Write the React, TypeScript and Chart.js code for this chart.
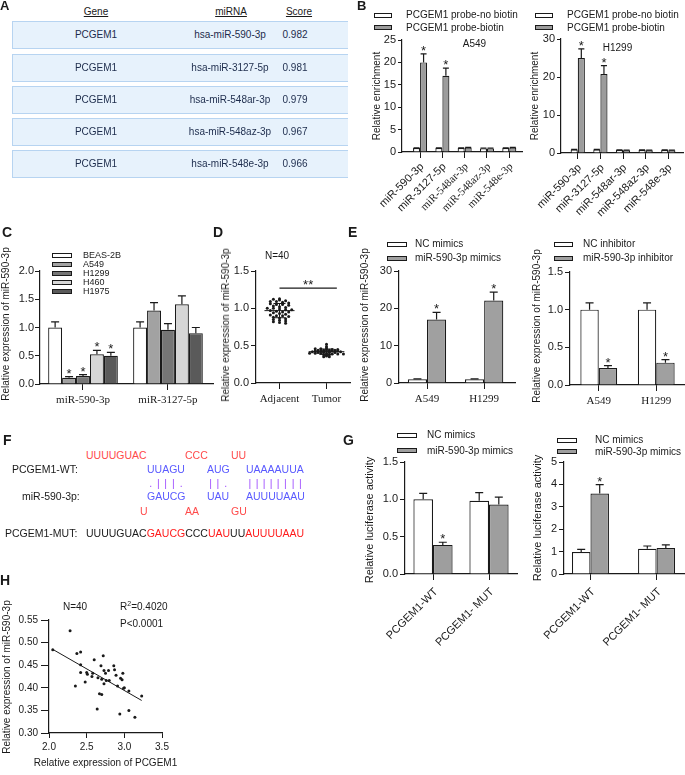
import React, { useEffect, useRef } from 'react';
import { Chart, registerables } from 'chart.js';
Chart.register(...registerables);

const SANS = "'Liberation Sans', Arial, Helvetica, sans-serif";
const SERIF = "'Liberation Serif', 'Times New Roman', Times, serif";
const INK = '#1a1a1a';

// ================= DATA =================
// Panel A
const tableGenes = ['PCGEM1', 'PCGEM1', 'PCGEM1', 'PCGEM1', 'PCGEM1'];
const tableMirnas = ['hsa-miR-590-3p', 'hsa-miR-3127-5p', 'hsa-miR-548ar-3p', 'hsa-miR-548az-3p', 'hsa-miR-548e-3p'];
const tableScores = ['0.982', '0.981', '0.979', '0.967', '0.966'];

// Panel B
const bCategories = ['miR-590-3p', 'miR-3127-5p', 'miR-548ar-3p', 'miR-548az-3p', 'miR-548e-3p'];
const bA549NoBiotin = [0.9, 0.9, 0.9, 0.8, 0.9];
const bA549NoBiotinErr = [0.05, 0.05, 0.05, 0.05, 0.05];
const bA549Biotin = [20, 17, 1.0, 0.8, 1.0];
const bA549BiotinErr = [1.9, 1.7, 0.05, 0.05, 0.05];
const bA549Stars = [true, true, false, false, false];
const bH1299NoBiotin = [0.9, 0.9, 0.8, 0.8, 0.8];
const bH1299NoBiotinErr = [0.05, 0.05, 0.05, 0.05, 0.05];
const bH1299Biotin = [25, 20.8, 0.7, 0.7, 0.7];
const bH1299BiotinErr = [2.4, 2.2, 0.05, 0.05, 0.05];
const bH1299Stars = [true, true, false, false, false];

// Panel C
const cCategories = ['miR-590-3p', 'miR-3127-5p'];
const cLines = ['BEAS-2B', 'A549', 'H1299', 'H460', 'H1975'];
const cColors = ['#ffffff', '#a2a2a2', '#767676', '#d6d6d6', '#5a5a5a'];
const cValues = [
  [1.0, 1.0],
  [0.11, 1.3],
  [0.14, 0.96],
  [0.525, 1.41],
  [0.5, 0.9],
];
const cErrors = [
  [0.1, 0.1],
  [0.02, 0.14],
  [0.025, 0.11],
  [0.07, 0.15],
  [0.06, 0.1],
];
const cStars = [
  [false, false],
  [true, false],
  [true, false],
  [true, false],
  [true, false],
];

// Panel D
const dCategories = ['Adjacent', 'Tumor'];
const dAdjacent = [1.13, 1.12, 1.11, 1.10, 1.09, 1.09, 1.08, 1.07, 1.06, 1.05, 1.05, 1.04, 1.03, 1.02, 1.01, 1.00, 1.00, 0.99, 0.98, 0.98,
  0.97, 0.96, 0.95, 0.95, 0.94, 0.93, 0.92, 0.91, 0.90, 0.90, 0.89, 0.88, 0.87, 0.86, 0.85, 0.84, 0.83, 0.82, 0.81, 0.80];
const dTumor = [0.52, 0.49, 0.47, 0.46, 0.46, 0.45, 0.45, 0.45, 0.44, 0.44, 0.44, 0.44, 0.43, 0.43, 0.43, 0.43, 0.43, 0.42, 0.42, 0.42,
  0.42, 0.42, 0.42, 0.41, 0.41, 0.41, 0.41, 0.40, 0.40, 0.40, 0.40, 0.39, 0.39, 0.39, 0.38, 0.38, 0.37, 0.36, 0.35, 0.35];
const dSigFrom = 0;
const dSigTo = 1.22;
const dSigLevel = 1.27;

// Panel E
const eCategories = ['A549', 'H1299'];
const eNcMimics = [1.0, 1.0];
const eNcMimicsErr = [0.1, 0.1];
const eMimics = [17.0, 22.1];
const eMimicsErr = [1.9, 2.25];
const eMimicsStars = [true, true];
const eNcInhibitor = [1.0, 1.0];
const eNcInhibitorErr = [0.09, 0.09];
const eInhibitor = [0.226, 0.297];
const eInhibitorErr = [0.03, 0.04];
const eInhibitorStars = [true, true];

// Panel G
const gCategories = ['PCGEM1-WT', 'PCGEM1- MUT'];
const gLeftNc = [1.0, 0.98];
const gLeftNcErr = [0.08, 0.11];
const gLeftMimics = [0.39, 0.93];
const gLeftMimicsErr = [0.035, 0.1];
const gLeftStars = [true, false];
const gRightNc = [0.98, 1.13];
const gRightNcErr = [0.12, 0.12];
const gRightMimics = [3.59, 1.16];
const gRightMimicsErr = [0.4, 0.14];
const gRightStars = [true, false];

// Panel H
const hPcgem1 = [2.05, 2.28, 2.37, 2.42, 2.35, 2.42, 2.42, 2.50, 2.51, 2.48, 2.58, 2.57, 2.60, 2.65, 2.64, 2.67, 2.69, 2.70, 2.70, 2.73,
  2.72, 2.73, 2.75, 2.76, 2.79, 2.80, 2.86, 2.87, 2.89, 2.91, 2.94, 2.95, 2.97, 2.99, 2.98, 3.00, 3.06, 3.06, 3.14, 3.23];
const hMir590 = [0.484, 0.526, 0.476, 0.479, 0.404, 0.451, 0.434, 0.434, 0.430, 0.413, 0.432, 0.425, 0.462, 0.422, 0.353, 0.387, 0.449, 0.419, 0.385, 0.438,
  0.471, 0.409, 0.432, 0.416, 0.438, 0.416, 0.449, 0.440, 0.428, 0.404, 0.342, 0.421, 0.418, 0.399, 0.432, 0.400, 0.393, 0.350, 0.335, 0.382];
const hFitX = [2.05, 3.23];
const hFitY = [0.485, 0.372];

// Axis titles
const titleEnrichment = 'Relative enrichment';
const titleExpression = 'Relative expression of miR-590-3p';
const titleLuciferase = 'Relative luciferase activity';
const titlePcgem1 = 'Relative expression of PCGEM1';

// ================= HELPERS =================
const errorBarPlugin: any = {
  id: 'errorBars',
  afterDatasetsDraw(chart: any) {
    const ctx = chart.ctx;
    const yScale = chart.scales.y;
    chart.data.datasets.forEach((ds: any, di: number) => {
      const meta = chart.getDatasetMeta(di);
      if (!ds.errors) return;
      meta.data.forEach((bar: any, i: number) => {
        const v = ds.data[i].y;
        const e = ds.errors[i];
        const yTop = yScale.getPixelForValue(v + e);
        const cap = Math.min(8, bar.width * 0.85);
        ctx.save();
        ctx.strokeStyle = INK;
        ctx.lineWidth = 1.2;
        ctx.beginPath();
        ctx.moveTo(bar.x, bar.y);
        ctx.lineTo(bar.x, yTop);
        ctx.moveTo(bar.x - cap / 2, yTop);
        ctx.lineTo(bar.x + cap / 2, yTop);
        ctx.stroke();
        if (ds.stars && ds.stars[i]) {
          ctx.fillStyle = INK;
          ctx.font = `13px ${SANS}`;
          ctx.textAlign = 'center';
          ctx.textBaseline = 'alphabetic';
          ctx.fillText('*', bar.x, yTop + 1);
        }
        ctx.restore();
      });
    });
  },
};

// 45-degree category labels drawn at the x scale's tick positions
function rotLabelPlugin(cats: string[], fontFor: (i: number) => string, dx: number, dy: number) {
  return {
    id: 'rotLabels',
    afterDraw(chart: any) {
      const { ctx } = chart;
      const xs = chart.scales.x;
      const base = chart.chartArea.bottom;
      cats.forEach((c, i) => {
        const px = xs.getPixelForValue(i);
        ctx.save();
        ctx.translate(px + dx, base + dy);
        ctx.rotate(-Math.PI / 4);
        ctx.font = fontFor(i);
        ctx.fillStyle = INK;
        ctx.textAlign = 'right';
        ctx.textBaseline = 'middle';
        ctx.fillText(c, 0, 0);
        ctx.restore();
      });
    },
  };
}

function yAxis(o: any) {
  return {
    type: 'linear',
    min: o.min,
    max: o.max,
    ticks: {
      stepSize: o.step,
      padding: o.tickPad ?? 2,
      color: INK,
      font: { family: SANS, size: o.tickSize ?? 11 },
      callback: (v: any) => Number(v).toFixed(o.dec),
    },
    grid: { drawOnChartArea: false, drawTicks: true, tickLength: o.tickLen ?? 5, color: INK, lineWidth: 1 },
    border: { display: true, color: INK, width: 1.2 },
    title: { display: false },
  };
}

function xIndexAxis(o: any) {
  return {
    type: 'linear',
    min: o.min,
    max: o.max,
    offset: false,
    afterBuildTicks: (s: any) => {
      s.ticks = o.cats.map((_: any, i: number) => ({ value: i }));
    },
    ticks: {
      display: !o.hideLabels,
      autoSkip: false,
      minRotation: 0,
      maxRotation: 0,
      padding: o.pad ?? 3,
      color: INK,
      font: o.font,
      callback: (_v: any, i: number) => o.cats[i],
    },
    grid: { offset: false, drawOnChartArea: false, drawTicks: true, tickLength: 6, color: INK, lineWidth: 1 },
    border: { display: true, color: INK, width: 1.2 },
  };
}

function barDs(values: number[], errors: number[], color: string, stars: boolean[] | undefined, cp: number) {
  return {
    data: values.map((y, x) => ({ x, y })),
    errors,
    stars,
    backgroundColor: color,
    borderColor: INK,
    borderWidth: 1.2,
    barPercentage: 1,
    categoryPercentage: cp,
  };
}

function ChartCanvas({ area, yW, xH, padTop = 10, padRight = 6, make }: any) {
  const ref = useRef<HTMLCanvasElement | null>(null);
  const left = area.l - yW;
  const top = area.t - padTop;
  const width = area.r - area.l + yW + padRight;
  const height = area.b - area.t + padTop + xH;
  useEffect(() => {
    if (!ref.current) return;
    const cfg: any = make();
    cfg.options = cfg.options || {};
    cfg.options.animation = false;
    cfg.options.responsive = false;
    cfg.options.maintainAspectRatio = false;
    cfg.options.layout = { padding: { top: padTop, right: padRight, left: 0, bottom: 0 } };
    cfg.options.plugins = { legend: { display: false }, tooltip: { enabled: false }, ...(cfg.options.plugins || {}) };
    cfg.options.scales.x.afterFit = (s: any) => { s.height = xH; };
    cfg.options.scales.y.afterFit = (s: any) => { s.width = yW; };
    const chart = new Chart(ref.current, cfg);
    return () => chart.destroy();
  }, []);
  return <canvas ref={ref} width={width} height={height} style={{ position: 'absolute', left, top, width, height }} />;
}

function swarm(vals: number[], group: number, bin: number, step: number) {
  const bins = new Map<number, number[]>();
  vals.forEach((v) => {
    const k = Math.round(v / bin);
    if (!bins.has(k)) bins.set(k, []);
    bins.get(k)!.push(v);
  });
  const pts: any[] = [];
  bins.forEach((arr) => arr.forEach((v, j) => pts.push({ x: group + (j - (arr.length - 1) / 2) * step, y: v })));
  return pts;
}

function dotStatsPlugin(groups: number[][], halfWidths: number[]) {
  return {
    id: 'dotStats',
    afterDatasetsDraw(chart: any) {
      const { ctx } = chart;
      const xs = chart.scales.x;
      const ys = chart.scales.y;
      ctx.save();
      ctx.strokeStyle = INK;
      ctx.lineWidth = 1;
      groups.forEach((vals, gi) => {
        const m = vals.reduce((a, b) => a + b, 0) / vals.length;
        const sd = Math.sqrt(vals.reduce((a, b) => a + (b - m) * (b - m), 0) / (vals.length - 1));
        const hw = halfWidths[gi];
        ctx.beginPath();
        ctx.moveTo(xs.getPixelForValue(gi - hw), ys.getPixelForValue(m));
        ctx.lineTo(xs.getPixelForValue(gi + hw), ys.getPixelForValue(m));
        ctx.moveTo(xs.getPixelForValue(gi), ys.getPixelForValue(m - sd));
        ctx.lineTo(xs.getPixelForValue(gi), ys.getPixelForValue(m + sd));
        const cw = hw * 0.4;
        ctx.moveTo(xs.getPixelForValue(gi - cw), ys.getPixelForValue(m - sd));
        ctx.lineTo(xs.getPixelForValue(gi + cw), ys.getPixelForValue(m - sd));
        ctx.moveTo(xs.getPixelForValue(gi - cw), ys.getPixelForValue(m + sd));
        ctx.lineTo(xs.getPixelForValue(gi + cw), ys.getPixelForValue(m + sd));
        ctx.stroke();
      });
      const sy = ys.getPixelForValue(dSigLevel);
      ctx.lineWidth = 1.2;
      ctx.beginPath();
      ctx.moveTo(xs.getPixelForValue(dSigFrom), sy);
      ctx.lineTo(xs.getPixelForValue(dSigTo), sy);
      ctx.stroke();
      ctx.fillStyle = INK;
      ctx.font = `13px ${SANS}`;
      ctx.textAlign = 'center';
      ctx.fillText('**', xs.getPixelForValue((dSigFrom + dSigTo) / 2), sy + 1);
      ctx.restore();
    },
  };
}

function Txt({ x, y, children, size = 10, family = SANS, color = INK, weight = 400, center = false, style = {} }: any) {
  return (
    <div
      style={{
        position: 'absolute',
        left: x,
        top: y - size * 0.6,
        fontFamily: family,
        fontSize: size,
        lineHeight: `${size * 1.2}px`,
        color,
        fontWeight: weight,
        whiteSpace: 'pre',
        transform: center ? 'translateX(-50%)' : undefined,
        ...style,
      }}
    >
      {children}
    </div>
  );
}

function RotTxt({ cx, cy, children, size = 10 }: any) {
  return (
    <div
      style={{
        position: 'absolute',
        left: cx,
        top: cy,
        fontFamily: SANS,
        fontSize: size,
        lineHeight: `${size * 1.2}px`,
        color: INK,
        whiteSpace: 'pre',
        transform: 'translate(-50%, -50%) rotate(-90deg)',
      }}
    >
      {children}
    </div>
  );
}

function Legend({ x, tx, ys, w = 20, items, size = 10 }: any) {
  return (
    <>
      {items.map((it: any, i: number) => (
        <React.Fragment key={i}>
          <div
            style={{
              position: 'absolute',
              left: x,
              top: ys[i] - 2.5,
              width: w,
              height: 5,
              boxSizing: 'border-box',
              border: `1px solid ${INK}`,
              background: it.color,
            }}
          />
          <Txt x={tx} y={ys[i]} size={size}>{it.label}</Txt>
        </React.Fragment>
      ))}
    </>
  );
}

// ================= CHART CONFIGS =================
const sans11 = () => `11px ${SANS}`;

const makeBLeft = () => ({
  type: 'bar',
  data: {
    datasets: [
      barDs(bA549NoBiotin, bA549NoBiotinErr, '#ffffff', undefined, 0.63),
      barDs(bA549Biotin, bA549BiotinErr, '#9c9c9c', bA549Stars, 0.63),
    ],
  },
  options: {
    scales: {
      x: xIndexAxis({ cats: bCategories, min: -0.81, max: 4.57, hideLabels: true }),
      y: yAxis({ min: 0, max: 25, step: 5, dec: 0, tickLen: 4 }),
    },
  },
  plugins: [errorBarPlugin, rotLabelPlugin(bCategories, (i) => (i < 2 ? `11px ${SANS}` : `11px ${SERIF}`), 2, 13)],
});

const makeBRight = () => ({
  type: 'bar',
  data: {
    datasets: [
      barDs(bH1299NoBiotin, bH1299NoBiotinErr, '#ffffff', undefined, 0.63),
      barDs(bH1299Biotin, bH1299BiotinErr, '#9c9c9c', bH1299Stars, 0.63),
    ],
  },
  options: {
    scales: {
      x: xIndexAxis({ cats: bCategories, min: -0.74, max: 4.65, hideLabels: true }),
      y: yAxis({ min: 0, max: 30, step: 10, dec: 0, tickLen: 4 }),
    },
  },
  plugins: [errorBarPlugin, rotLabelPlugin(bCategories, sans11, 2, 13)],
});

const makeC = () => ({
  type: 'bar',
  data: { datasets: cLines.map((_, i) => barDs(cValues[i], cErrors[i], cColors[i], cStars[i], 0.82)) },
  options: {
    scales: {
      x: xIndexAxis({ cats: cCategories, min: -0.506, max: 1.53, pad: 4, font: { family: SERIF, size: 11 } }),
      y: yAxis({ min: 0, max: 2, step: 0.5, dec: 1, tickPad: 1 }),
    },
  },
  plugins: [errorBarPlugin],
});

const makeD = () => ({
  type: 'scatter',
  data: {
    datasets: [
      { data: swarm(dAdjacent, 0, 0.03, 0.13), pointRadius: 1.5, pointBackgroundColor: INK, pointBorderWidth: 0 },
      { data: swarm(dTumor, 1, 0.012, 0.12), pointRadius: 1.5, pointBackgroundColor: INK, pointBorderWidth: 0 },
    ],
  },
  options: {
    scales: {
      x: xIndexAxis({ cats: dCategories, min: -0.5, max: 1.5, pad: 4, font: { family: SERIF, size: 11 } }),
      y: yAxis({ min: 0, max: 1.5, step: 0.5, dec: 1 }),
    },
  },
  plugins: [dotStatsPlugin([dAdjacent, dTumor], [0.32, 0.38])],
});

const makeELeft = () => ({
  type: 'bar',
  data: {
    datasets: [
      barDs(eNcMimics, eNcMimicsErr, '#ffffff', undefined, 0.67),
      barDs(eMimics, eMimicsErr, '#a0a0a0', eMimicsStars, 0.67),
    ],
  },
  options: {
    scales: {
      x: xIndexAxis({ cats: eCategories, min: -0.49, max: 1.54, pad: 4, font: { family: SERIF, size: 11 } }),
      y: yAxis({ min: 0, max: 30, step: 10, dec: 0 }),
    },
  },
  plugins: [errorBarPlugin],
});

const makeERight = () => ({
  type: 'bar',
  data: {
    datasets: [
      barDs(eNcInhibitor, eNcInhibitorErr, '#ffffff', undefined, 0.64),
      barDs(eInhibitor, eInhibitorErr, '#a0a0a0', eInhibitorStars, 0.64),
    ],
  },
  options: {
    scales: {
      x: xIndexAxis({ cats: eCategories, min: -0.5, max: 1.5, pad: 4, font: { family: SERIF, size: 11 } }),
      y: yAxis({ min: 0, max: 1.5, step: 0.5, dec: 1 }),
    },
  },
  plugins: [errorBarPlugin],
});

const makeGLeft = () => ({
  type: 'bar',
  data: {
    datasets: [
      barDs(gLeftNc, gLeftNcErr, '#ffffff', undefined, 0.7),
      barDs(gLeftMimics, gLeftMimicsErr, '#9e9e9e', gLeftStars, 0.7),
    ],
  },
  options: {
    scales: {
      x: xIndexAxis({ cats: gCategories, min: -0.5, max: 1.5, hideLabels: true }),
      y: yAxis({ min: 0, max: 1.5, step: 0.5, dec: 1 }),
    },
  },
  plugins: [errorBarPlugin, rotLabelPlugin(gCategories, sans11, 3, 16)],
});

const makeGRight = () => ({
  type: 'bar',
  data: {
    datasets: [
      barDs(gRightNc, gRightNcErr, '#ffffff', undefined, 0.56),
      barDs(gRightMimics, gRightMimicsErr, '#9e9e9e', gRightStars, 0.56),
    ],
  },
  options: {
    scales: {
      x: xIndexAxis({ cats: gCategories, min: -0.4, max: 1.43, hideLabels: true }),
      y: yAxis({ min: 0, max: 5, step: 1, dec: 0 }),
    },
  },
  plugins: [errorBarPlugin, rotLabelPlugin(gCategories, sans11, 3, 16)],
});

const makeH = () => ({
  type: 'scatter',
  data: {
    datasets: [
      { data: hPcgem1.map((x, i) => ({ x, y: hMir590[i] })), pointRadius: 1.5, pointBackgroundColor: INK, pointBorderWidth: 0 },
      { type: 'line', data: hFitX.map((x, i) => ({ x, y: hFitY[i] })), showLine: true, pointRadius: 0, borderColor: INK, borderWidth: 1, fill: false },
    ],
  },
  options: {
    scales: {
      x: {
        type: 'linear', min: 2, max: 3.5,
        ticks: { stepSize: 0.5, padding: 3, color: INK, font: { family: SANS, size: 10 }, callback: (v: any) => Number(v).toFixed(1) },
        grid: { drawOnChartArea: false, drawTicks: true, tickLength: 5, color: INK, lineWidth: 1 },
        border: { display: true, color: INK, width: 1.2 },
        title: { display: false },
      },
      y: yAxis({ min: 0.3, max: 0.55, step: 0.05, dec: 2, tickSize: 10, tickLen: 8, tickPad: 3 }),
    },
  },
});

// ================= PANELS =================
function PanelA() {
  const rowTops = [21, 53.5, 86, 118, 150];
  return (
    <>
      <Txt x={96} y={12} center style={{ textDecoration: 'underline' }}>Gene</Txt>
      <Txt x={231} y={12} center style={{ textDecoration: 'underline' }}>miRNA</Txt>
      <Txt x={299} y={12} center style={{ textDecoration: 'underline' }}>Score</Txt>
      {tableGenes.map((g, i) => (
        <React.Fragment key={i}>
          <div
            style={{
              position: 'absolute', left: 12, top: rowTops[i], width: 336, height: 28, boxSizing: 'border-box',
              background: '#e7f2fc', borderTop: '1.5px solid #b7d4f1', borderBottom: '1.5px solid #b7d4f1', borderLeft: '1.5px solid #b7d4f1',
            }}
          />
          <Txt x={96} y={rowTops[i] + 14} center color="#1d2c4c">{g}</Txt>
          <Txt x={230} y={rowTops[i] + 14} center color="#1d2c4c">{tableMirnas[i]}</Txt>
          <Txt x={295} y={rowTops[i] + 14} center color="#1d2c4c">{tableScores[i]}</Txt>
        </React.Fragment>
      ))}
    </>
  );
}

const RED = '#ff4a4a';
const MRED = '#ff1a1a';
const BLUE = '#5a5aff';
const PURPLE = '#a050ff';
const FS = 10.5;

function PairRow({ x, y, ref, sym }: any) {
  return (
    <div style={{ position: 'absolute', left: x, top: y - FS * 0.6, fontFamily: SANS, fontSize: FS, lineHeight: `${FS * 1.2}px`, whiteSpace: 'pre' }}>
      {ref.split('').map((c: string, i: number) => (
        <span key={i} style={{ position: 'relative', color: 'transparent' }}>
          {c}
          <span style={{ position: 'absolute', left: 0, right: 0, textAlign: 'center', color: PURPLE }}>{sym[i]}</span>
        </span>
      ))}
    </div>
  );
}

function PanelF() {
  const segs = [
    { x: 147, wt: 'UUAGU', pair: '.|||.', mir: 'GAUCG' },
    { x: 207, wt: 'AUG', pair: '||.', mir: 'UAU' },
    { x: 246, wt: 'UAAAAUUA', pair: '||||||||', mir: 'AUUUUAAU' },
  ];
  const topRed = [{ x: 86, s: 'UUUUGUAC' }, { x: 185, s: 'CCC' }, { x: 231, s: 'UU' }];
  const botRed = [{ x: 140, s: 'U' }, { x: 185, s: 'AA' }, { x: 231, s: 'GU' }];
  return (
    <>
      {topRed.map((t, i) => <Txt key={'t' + i} x={t.x} y={455} size={FS} color={RED}>{t.s}</Txt>)}
      <Txt x={12} y={469} size={FS}>PCGEM1-WT:</Txt>
      {segs.map((s, i) => <Txt key={'w' + i} x={s.x} y={469} size={FS} color={BLUE}>{s.wt}</Txt>)}
      {segs.map((s, i) => <PairRow key={'p' + i} x={s.x} y={483} ref={s.wt} sym={s.pair} />)}
      <Txt x={22} y={496} size={FS}>miR-590-3p:</Txt>
      {segs.map((s, i) => <Txt key={'m' + i} x={s.x} y={496} size={FS} color={BLUE}>{s.mir}</Txt>)}
      {botRed.map((t, i) => <Txt key={'b' + i} x={t.x} y={511} size={FS} color={RED}>{t.s}</Txt>)}
      <Txt x={5} y={533} size={FS}>PCGEM1-MUT:</Txt>
      <Txt x={86} y={533} size={FS}>
        <span>UUUUGUAC</span>
        <span style={{ color: MRED }}>GAUCG</span>
        <span>CCC</span>
        <span style={{ color: MRED }}>UAU</span>
        <span>UU</span>
        <span style={{ color: MRED }}>AUUUUAAU</span>
      </Txt>
    </>
  );
}

export default function App() {
  return (
    <div
      style={{
        position: 'absolute', left: 0, top: 0, width: 685, height: 775, overflow: 'hidden',
        background: '#ffffff', fontFamily: SANS, color: INK,
      }}
    >
      {/* Charts */}
      <ChartCanvas area={{ l: 402, r: 522, t: 40, b: 152 }} yW={33} xH={66} padRight={4} make={makeBLeft} />
      <ChartCanvas area={{ l: 561, r: 683, t: 39, b: 153 }} yW={34} xH={66} padRight={2} make={makeBRight} />
      <ChartCanvas area={{ l: 40, r: 213, t: 271, b: 384 }} yW={40} xH={25} make={makeC} />
      <ChartCanvas area={{ l: 256, r: 350, t: 271, b: 383 }} yW={38} xH={25} make={makeD} />
      <ChartCanvas area={{ l: 399, r: 515, t: 271, b: 383 }} yW={42} xH={25} make={makeELeft} />
      <ChartCanvas area={{ l: 570, r: 685, t: 272, b: 385 }} yW={41} xH={25} padRight={0} make={makeERight} />
      <ChartCanvas area={{ l: 405, r: 517, t: 462, b: 574 }} yW={43} xH={72} make={makeGLeft} />
      <ChartCanvas area={{ l: 564, r: 685, t: 462, b: 574 }} yW={34} xH={72} padRight={0} make={makeGRight} />
      <ChartCanvas area={{ l: 49, r: 162, t: 620, b: 733 }} yW={49} xH={25} padRight={14} make={makeH} />

      {/* Axis titles */}
      <RotTxt cx={377} cy={96}>{titleEnrichment}</RotTxt>
      <RotTxt cx={535} cy={96}>{titleEnrichment}</RotTxt>
      <RotTxt cx={6} cy={324}>{titleExpression}</RotTxt>
      <RotTxt cx={226} cy={325}>{titleExpression}</RotTxt>
      <RotTxt cx={365} cy={325}>{titleExpression}</RotTxt>
      <RotTxt cx={537} cy={326}>{titleExpression}</RotTxt>
      <RotTxt cx={370} cy={520} size={11}>{titleLuciferase}</RotTxt>
      <RotTxt cx={538} cy={518} size={11}>{titleLuciferase}</RotTxt>
      <RotTxt cx={7} cy={677}>{titleExpression}</RotTxt>
      <Txt x={105.5} y={763} center>{titlePcgem1}</Txt>

      {/* Panel letters */}
      <Txt x={0} y={6} size={13} weight={700}>A</Txt>
      <Txt x={357} y={6} size={13} weight={700}>B</Txt>
      <Txt x={2} y={232} size={14} weight={700}>C</Txt>
      <Txt x={213} y={232} size={14} weight={700}>D</Txt>
      <Txt x={348} y={232} size={14} weight={700}>E</Txt>
      <Txt x={3} y={440} size={14} weight={700}>F</Txt>
      <Txt x={343} y={440} size={14} weight={700}>G</Txt>
      <Txt x={0} y={580} size={14} weight={700}>H</Txt>

      <PanelA />

      {/* B legends & titles */}
      <Legend x={374} tx={406} w={18} ys={[15, 27.7]} items={[{ label: 'PCGEM1 probe-no biotin', color: '#ffffff' }, { label: 'PCGEM1 probe-biotin', color: '#9c9c9c' }]} />
      <Legend x={535} tx={567} w={18} ys={[15, 27.7]} items={[{ label: 'PCGEM1 probe-no biotin', color: '#ffffff' }, { label: 'PCGEM1 probe-biotin', color: '#9c9c9c' }]} />
      <Txt x={474.5} y={44} center>A549</Txt>
      <Txt x={617.5} y={48} center>H1299</Txt>

      {/* C legend */}
      <Legend x={52} tx={83} w={20} size={9} ys={[255.8, 264.6, 273.6, 282.4, 291.4]} items={cLines.map((l, i) => ({ label: l, color: cColors[i] }))} />

      {/* D text */}
      <Txt x={265} y={256}>N=40</Txt>

      {/* E legends */}
      <Legend x={387} tx={415} w={20} ys={[244.3, 258.3]} items={[{ label: 'NC mimics', color: '#ffffff' }, { label: 'miR-590-3p mimics', color: '#a0a0a0' }]} />
      <Legend x={554} tx={583} w={19} ys={[244.3, 258.3]} items={[{ label: 'NC inhibitor', color: '#ffffff' }, { label: 'miR-590-3p inhibitor', color: '#a0a0a0' }]} />

      <PanelF />

      {/* G legends */}
      <Legend x={397} tx={427} w={20} ys={[435, 450.7]} items={[{ label: 'NC mimics', color: '#ffffff' }, { label: 'miR-590-3p mimics', color: '#9e9e9e' }]} />
      <Legend x={557} tx={595} w={20} ys={[440, 451.7]} items={[{ label: 'NC mimics', color: '#ffffff' }, { label: 'miR-590-3p mimics', color: '#9e9e9e' }]} />

      {/* H texts */}
      <Txt x={63} y={607}>N=40</Txt>
      <Txt x={120} y={607}>R<sup style={{ fontSize: 7, lineHeight: 0 }}>2</sup>=0.4020</Txt>
      <Txt x={120} y={624}>P&lt;0.0001</Txt>
    </div>
  );
}
